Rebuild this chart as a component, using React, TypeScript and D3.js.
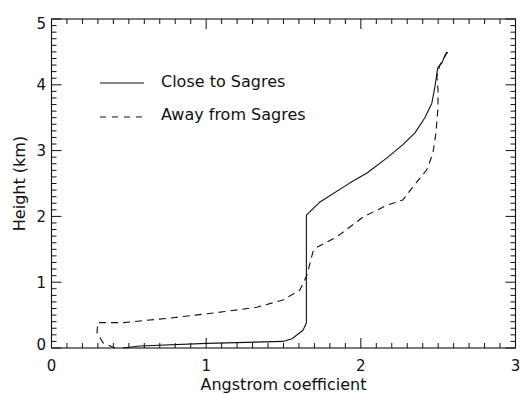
import React from "react";
import * as d3 from "d3";

// Vertical profiles of the Angstrom coefficient
const closeAngstrom = [0.462, 0.572, 1.005, 1.497, 1.555, 1.626, 1.648, 1.648, 1.736, 1.93, 2.04, 2.169, 2.272, 2.35, 2.414, 2.459, 2.479, 2.492, 2.499, 2.524, 2.544, 2.557];
const closeHeight = [0.0, 0.03, 0.07, 0.1, 0.14, 0.27, 0.38, 2.02, 2.22, 2.51, 2.66, 2.89, 3.09, 3.27, 3.5, 3.72, 3.97, 4.18, 4.27, 4.33, 4.45, 4.5];

const awayAngstrom = [0.41, 0.333, 0.294, 0.3, 0.462, 0.785, 1.109, 1.328, 1.497, 1.606, 1.652, 1.69, 1.716, 1.845, 2.014, 2.169, 2.272, 2.337, 2.427, 2.466, 2.486, 2.499, 2.499, 2.492, 2.511, 2.57];
const awayHeight = [0.0, 0.08, 0.23, 0.385, 0.385, 0.46, 0.55, 0.62, 0.73, 0.88, 1.11, 1.46, 1.53, 1.69, 1.99, 2.17, 2.25, 2.45, 2.71, 2.96, 3.27, 3.66, 3.92, 4.12, 4.3, 4.53];

const xTicks = [0, 1, 2, 3];
const yTicks = [0, 1, 2, 3, 4, 5];
const seriesNames = ["Close to Sagres", "Away from Sagres"];
const xTitle = "Angstrom coefficient";
const yTitle = "Height (km)";

const W = 520;
const H = 394;
const FONT = "'DejaVu Sans', sans-serif";
const FS = 16;
const TICK_FS = 15;

export default function App() {
  const x = d3.scaleLinear().domain([0, 3]).range([51.5, 515.5]);
  const y = d3.scaleLinear().domain([0, 5]).range([348, 19]);

  const line = d3
    .line<[number, number]>()
    .x((d) => x(d[0]))
    .y((d) => y(d[1]));

  const closePts = closeAngstrom.map((v, i) => [v, closeHeight[i]] as [number, number]);
  const awayPts = awayAngstrom.map((v, i) => [v, awayHeight[i]] as [number, number]);

  const xMinor = d3.range(0, 30 + 1).map((i) => i / 10);
  const yMinor = d3.range(0, 50 + 1).map((i) => i / 10);
  const isMajor = (v: number) => Math.abs(v - Math.round(v)) < 1e-6;

  const [x0, x1] = x.range();
  const [yb, yt] = y.range();
  const ink = "#111";

  return (
    <svg
      width={W}
      height={H}
      viewBox={`0 0 ${W} ${H}`}
      style={{ position: "absolute", left: 0, top: 0, background: "#fff" }}
      fontFamily={FONT}
    >
      <rect x={0} y={0} width={W} height={H} fill="#fff" />

      {/* frame */}
      <rect x={x0} y={yt} width={x1 - x0} height={yb - yt} fill="none" stroke={ink} strokeWidth={1.1} />

      {/* ticks on all four sides, pointing inward */}
      <g stroke={ink} strokeWidth={1}>
        {xMinor.map((v) => {
          const len = isMajor(v) ? 10 : 5;
          return (
            <g key={"x" + v}>
              <line x1={x(v)} x2={x(v)} y1={yb} y2={yb - len} />
              <line x1={x(v)} x2={x(v)} y1={yt} y2={yt + len} />
            </g>
          );
        })}
        {yMinor.map((v) => {
          const len = isMajor(v) ? 10 : 5;
          return (
            <g key={"y" + v}>
              <line x1={x0} x2={x0 + len} y1={y(v)} y2={y(v)} />
              <line x1={x1} x2={x1 - len} y1={y(v)} y2={y(v)} />
            </g>
          );
        })}
      </g>

      {/* tick labels */}
      <g fill={ink} fontSize={TICK_FS}>
        {xTicks.map((v) => (
          <text key={"xl" + v} x={x(v)} y={371} textAnchor="middle">
            {v}
          </text>
        ))}
        {yTicks.map((v) => (
          <text
            key={"yl" + v}
            x={46}
            y={Math.min(Math.max(y(v) + 5.5, 29), 350)}
            textAnchor="end"
          >
            {v}
          </text>
        ))}
      </g>

      {/* axis titles */}
      <text x={(x0 + x1) / 2} y={390} textAnchor="middle" fontSize={FS} fill={ink}>
        {xTitle}
      </text>
      <text
        transform={`translate(25,${(yb + yt) / 2}) rotate(-90)`}
        textAnchor="middle"
        fontSize={FS}
        fill={ink}
      >
        {yTitle}
      </text>

      {/* profiles */}
      <path d={line(closePts) ?? ""} fill="none" stroke={ink} strokeWidth={1.1} strokeLinejoin="round" />
      <path
        d={line(awayPts) ?? ""}
        fill="none"
        stroke={ink}
        strokeWidth={1.1}
        strokeDasharray="7,5"
        strokeLinejoin="round"
      />

      {/* legend */}
      <g>
        <line x1={100} x2={144} y1={83} y2={83} stroke={ink} strokeWidth={1.1} />
        <text x={161} y={87} fontSize={FS} fill={ink}>
          {seriesNames[0]}
        </text>
        <line x1={100} x2={144} y1={117} y2={117} stroke={ink} strokeWidth={1.1} strokeDasharray="6,6" />
        <text x={161} y={120} fontSize={FS} fill={ink}>
          {seriesNames[1]}
        </text>
      </g>
    </svg>
  );
}
